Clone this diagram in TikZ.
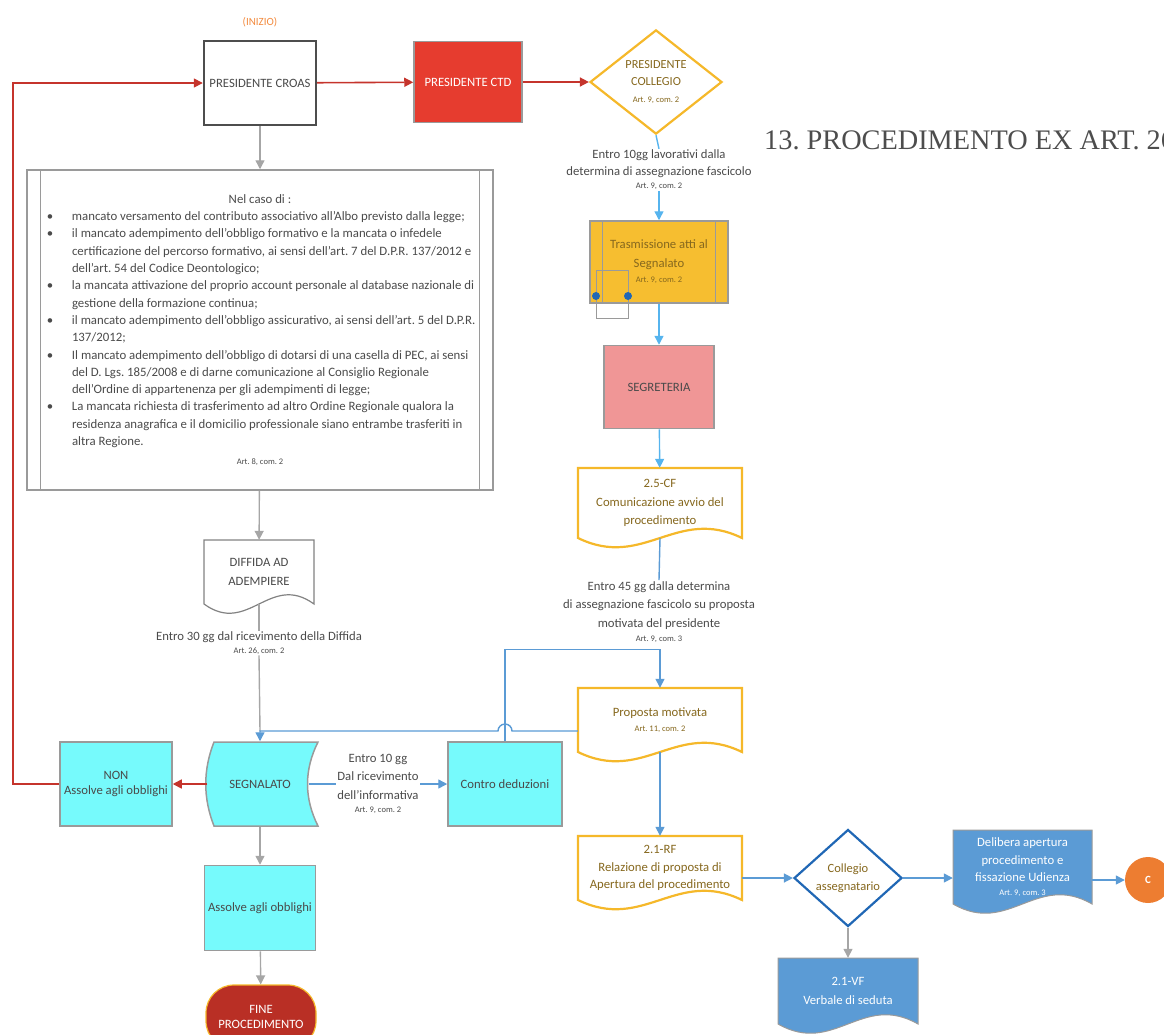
\documentclass[tikz,border=0pt]{standalone}
\usepackage{fontspec}
\setmainfont{Carlito}
\newfontfamily\titlefont{Liberation Serif}
\usetikzlibrary{shapes.geometric,arrows.meta}
\frenchspacing

\definecolor{redline}{HTML}{C5342C}
\definecolor{ctdred}{HTML}{E63C2F}
\definecolor{boxgray}{HTML}{9A9A9A}
\definecolor{croasgray}{HTML}{4D4D4D}
\definecolor{txtgray}{HTML}{4A4A4A}
\definecolor{gold}{HTML}{F5B82A}
\definecolor{goldfill}{HTML}{F6BE30}
\definecolor{goldtext}{HTML}{86681E}
\definecolor{skyblue}{HTML}{56B4EE}
\definecolor{midblue}{HTML}{5B9BD5}
\definecolor{darkblue}{HTML}{2067B5}
\definecolor{linegray}{HTML}{A6A6A6}
\definecolor{cyanfill}{HTML}{76FAFC}
\definecolor{pinkfill}{HTML}{F09696}
\definecolor{orangec}{HTML}{ED7D31}
\definecolor{finered}{HTML}{B92F25}
\definecolor{iniziocol}{HTML}{F28A3E}

\newcommand{\art}[1]{{\fontsize{8.5}{10}\selectfont #1}}
\newcommand{\caseitem}{\hspace*{13pt}\makebox[25pt][l]{\textbullet}}
\newcommand{\casecont}{\hspace*{38pt}}
% document shape: name, outline style, node style, x0, y0, x1, y1, text
\newcommand{\docshape}[8]{%
  \draw[#2] (#4,#5) -- (#6,#5) -- (#6,#7) .. controls ({#6-0.4*(#6-#4)},{#7-32}) and ({#4+0.4*(#6-#4)},{#7+32}) .. (#4,#7) -- cycle;
  \node[#3,inner sep=0,minimum width={#6-#4},minimum height={#7-#5}] (#1) at ({(#4+#6)/2},{(#5+#7)/2}) {#8};
}

\tikzset{
  box/.style={rectangle,draw=boxgray,line width=1.5pt,minimum width=112,minimum height=84,
    inner sep=2,align=center,text=txtgray,font=\fontsize{12.7}{15}\selectfont},
  lbl/.style={align=center,text=txtgray,font=\fontsize{12.7}{18.5}\selectfont,inner sep=1},
  goldlbl/.style={align=center,text=goldtext,font=\fontsize{12.7}{18.5}\selectfont},
  whitelbl/.style={align=center,text=white,font=\fontsize{12.7}{18.5}\selectfont},
  tip/.style={-{Triangle[length=9pt,width=9pt]}},
  redarrow/.style={draw=redline,line width=1.6pt,tip},
  grayarrow/.style={draw=linegray,line width=1.4pt,tip},
  skyarrow/.style={draw=skyblue,line width=1.4pt,tip},
  bluearrow/.style={draw=midblue,line width=1.4pt,tip},
}

\begin{document}
\begin{tikzpicture}[x=1pt,y=-1pt]
\useasboundingbox (0,0) rectangle (1164,1034);

% top row
\node[text=iniziocol,font=\fontsize{11}{13}\selectfont] (inizio) at (260,22) {(INIZIO)};
\node[box,draw=croasgray,line width=2.4pt] (croas) at (260,83) {PRESIDENTE CROAS};
\node[box,fill=ctdred,text=white,minimum width=108,minimum height=81] (ctd) at (468,82) {PRESIDENTE CTD};
\node[diamond,draw=gold,line width=2.2pt,fill=white,minimum width=132,minimum height=100,inner sep=0,
  align=center,text=goldtext,font=\fontsize{12.3}{17}\selectfont] (pcol) at (656,82) {PRESIDENTE\\COLLEGIO\\\art{Art. 9, com. 2}};
\node[anchor=west,inner sep=0,text=croasgray,font=\titlefont\fontsize{28.3}{31}\selectfont] (title) at (764,140) {13. PROCEDIMENTO EX ART. 26};

% list of cases
\node[box,minimum width=466,minimum height=320,text width=452,inner sep=7,align=none,
  font=\fontsize{12.8}{17.3}\selectfont] (cases) at (260,330) {%
  {\centering Nel caso di :\par}
  \raggedright
  \caseitem mancato versamento del contributo associativo all’Albo previsto dalla legge;\\
  \caseitem il mancato adempimento dell’obbligo formativo e la mancata o infedele\\
  \casecont certificazione del percorso formativo, ai sensi dell’art. 7 del D.P.R. 137/2012 e\\
  \casecont dell’art. 54 del Codice Deontologico;\\
  \caseitem la mancata attivazione del proprio account personale al database nazionale di\\
  \casecont gestione della formazione continua;\\
  \caseitem il mancato adempimento dell’obbligo assicurativo, ai sensi dell’art. 5 del D.P.R.\\
  \casecont 137/2012;\\
  \caseitem Il mancato adempimento dell’obbligo di dotarsi di una casella di PEC, ai sensi\\
  \casecont del D. Lgs. 185/2008 e di darne comunicazione al Consiglio Regionale\\
  \casecont dell’Ordine di appartenenza per gli adempimenti di legge;\\
  \caseitem La mancata richiesta di trasferimento ad altro Ordine Regionale qualora la\\
  \casecont residenza anagrafica e il domicilio professionale siano entrambe trasferiti in\\
  \casecont altra Regione.\par
  {\centering\fontsize{8.5}{19}\selectfont Art. 8, com. 2\par}};
\draw[boxgray,line width=1.2pt] ([xshift=14pt]cases.north west) -- ([xshift=14pt]cases.south west)
  ([xshift=-14pt]cases.north east) -- ([xshift=-14pt]cases.south east);

\docshape{diffida}{draw=croasgray!70,line width=1.2pt,fill=white}{lbl}{204}{540}{314}{604}{DIFFIDA AD\\ADEMPIERE}
\node[lbl] (l30) at (259,643) {Entro 30 gg dal ricevimento della Diffida\\[-6pt]\art{Art. 26, com. 2}};

% bottom left
\node[box,fill=cyanfill] (non) at (116,784) {NON\\Assolve agli obblighi};
\draw[fill=cyanfill,draw=boxgray,line width=1.5pt] (214,742) -- (318,742) .. controls (304,770) and (304,798) .. (318,826)
  -- (214,826) .. controls (203,798) and (203,770) .. (214,742) -- cycle;
\node[box,draw=none,minimum width=104] (segn) at (260,784) {SEGNALATO};
\node[box,fill=cyanfill,minimum width=114] (contro) at (505,784) {Contro deduzioni};
\node[box,fill=cyanfill,minimum width=111,minimum height=85] (assolve) at (260,908) {Assolve agli obblighi};
\node[box,fill=finered,draw=gold,line width=1.2pt,text=white,minimum width=110,minimum height=64,
  rounded corners=28] (fine) at (261,1017) {FINE\\PROCEDIMENTO};

% right column
\node[lbl] (l10a) at (659,170) {Entro 10gg lavorativi dalla\\[-2pt]determina di assegnazione fascicolo\\[-5pt]\art{Art. 9, com. 2}};
\node[box,fill=goldfill,text=goldtext,minimum width=138,minimum height=82,font=\fontsize{12.7}{19}\selectfont] (trasm) at (659,262)
  {Trasmissione atti al\\Segnalato\\[-4pt]\art{Art. 9, com. 2}};
\draw[boxgray,line width=1.1pt] ([xshift=13pt]trasm.north west) -- ([xshift=13pt]trasm.south west)
  ([xshift=-13pt]trasm.north east) -- ([xshift=-13pt]trasm.south east);
\draw[boxgray,line width=0.8pt] (596,270) rectangle (628,318);
\fill[darkblue] (596,296) circle (4) (628,296) circle (4);
\node[box,fill=pinkfill,minimum width=110,minimum height=83] (segr) at (659,387) {SEGRETERIA};
\docshape{cf25}{draw=gold,line width=2.2pt,fill=white}{goldlbl}{578}{468}{742}{538}{2.5-CF\\Comunicazione avvio del\\procedimento}
\node[lbl] (l45) at (659,612) {Entro 45 gg dalla determina\\di assegnazione fascicolo su proposta\\motivata del presidente\\[-4pt]\art{Art. 9, com. 3}};
\docshape{propmot}{draw=gold,line width=2.2pt,fill=white}{goldlbl}{578}{688}{742}{752}{Proposta motivata\\[-4pt]\art{Art. 11, com. 2}}
\docshape{rf21}{draw=gold,line width=2.2pt,fill=white}{goldlbl}{578}{836}{742}{900}{2.1-RF\\[-1pt]Relazione di proposta di\\[-1pt]Apertura del procedimento}
\node[diamond,draw=darkblue,line width=2.2pt,fill=white,minimum width=108,minimum height=97,inner sep=0,
  align=center,text=goldtext,font=\fontsize{12.5}{18}\selectfont] (coll) at (848,878) {Collegio\\assegnatario};
\docshape{deli}{draw=boxgray,line width=1pt,fill=midblue}{whitelbl}{953}{830}{1092}{904}{Delibera apertura\\[-1pt]procedimento e\\[-1pt]fissazione Udienza\\[-5pt]\art{Art. 9, com. 3}}
\node[circle,fill=orangec,minimum size=46,inner sep=0,text=white,font=\fontsize{11}{13}\selectfont\bfseries] (circ) at (1148,880) {C};
\docshape{verb}{draw=boxgray,line width=1pt,fill=midblue}{whitelbl}{778}{958}{918}{1024}{2.1-VF\\Verbale di seduta}

% connectors
\coordinate (redturn) at (13,784);
\draw[redarrow] (non.west) -- (redturn) |- (croas.west);
\path
    (croas) edge[redarrow] (ctd)
    (ctd) edge[redarrow] (pcol)
    (segn.west) edge[redarrow] (non.east);
\path
    (croas) edge[grayarrow] (cases)
    (cases) edge[grayarrow] (diffida)
    (segn.south) edge[grayarrow] (assolve)
    (assolve) edge[grayarrow] (fine)
    (coll) edge[grayarrow] (verb);
\draw[draw=linegray,line width=1.4pt] (diffida.south) -- (l30.north);
\coordinate (join) at (260,731);
\draw[draw=linegray,line width=1.4pt] (l30.south) -- (join);
\draw[bluearrow] (propmot.west |- join) -- (512,731) arc (0:-180:7) -- (join) -- (segn.north);
\draw[bluearrow] (contro.north) -- ++(0,-92) -| (propmot.north);
\draw[bluearrow] ([xshift=-4pt]segn.east) -- node[lbl,fill=white,inner sep=1] (l10b) {Entro 10 gg\\Dal ricevimento\\dell’informativa\\[-5pt]\art{Art. 9, com. 2}} (contro.west);
\draw[draw=skyblue,line width=1.4pt] (pcol.south) -- (l10a.north);
\path
    (l10a.south) edge[skyarrow] (trasm.north)
    (trasm) edge[skyarrow] (segr)
    (segr) edge[skyarrow] (cf25);
\draw[draw=midblue,line width=1.4pt] (cf25.south) -- (l45.north);
\path
    (propmot.south) edge[bluearrow] (rf21.north)
    (rf21.east |- coll.west) edge[bluearrow] (coll.west)
    (coll.east) edge[bluearrow] (coll.east -| deli.west)
    (deli.east |- circ.west) edge[bluearrow] (circ.west);
\end{tikzpicture}
\end{document}
